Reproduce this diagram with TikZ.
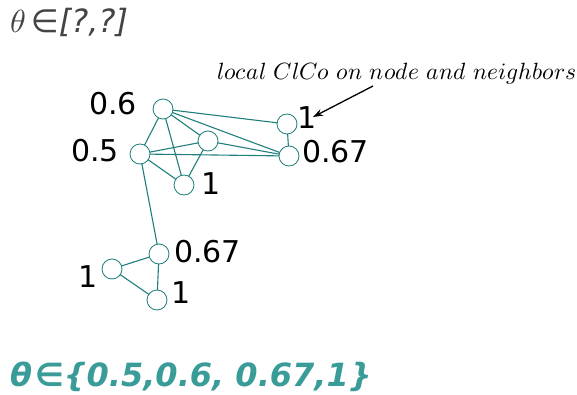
\documentclass[tikz,border=0pt]{standalone}
\usepackage{fontspec}
\usepackage{unicode-math}
\setmainfont{DejaVu Sans}
\newfontfamily\djv{DejaVu Sans}
\newfontfamily\djvo{DejaVu Sans Oblique}
\newfontfamily\djvbo{DejaVu Sans Bold Oblique}
\usetikzlibrary{arrows.meta}
\definecolor{edgeteal}{HTML}{1F7F7B}
\definecolor{titlegray}{HTML}{444444}
\definecolor{bottomteal}{HTML}{3A9C98}
\begin{document}
\begin{tikzpicture}[x=1pt,y=-1pt,
  vtx/.style={circle,draw=edgeteal,fill=white,line width=0.8pt,minimum size=20pt,inner sep=0pt},
  edg/.style={draw=edgeteal,line width=1.1pt},
  lbl/.style={font=\djv\fontsize{30}{32}\selectfont,inner sep=0pt,text=black}]
\useasboundingbox (0,0) rectangle (577,395);
% nodes
\coordinate (c06) at (163,109);
\coordinate (c1a) at (287,124);
\coordinate (c05) at (140,154);
\coordinate (cm) at (208,141);
\coordinate (c067) at (289,156);
\coordinate (c1b) at (184,185);
\coordinate (d067) at (159,254);
\coordinate (d1l) at (112,269);
\coordinate (d1b) at (157,300);
\foreach \a/\b in {c06/c1a,c06/c067,c06/cm,c06/c05,c06/c1b,c05/cm,c05/c067,c05/c1b,cm/c1b,cm/c067,c1a/c067,c05/d067,d067/d1l,d067/d1b,d1l/d1b}
  \draw[edg] (\a) -- (\b);
\foreach \n in {c06,c1a,c05,cm,c067,c1b,d067,d1l,d1b}
  \node[vtx] (\n v) at (\n) {};
% labels
\node[lbl,anchor=base west] (l06) at (89,115) {0.6};
\node[lbl,anchor=base west] (l05) at (71,162) {0.5};
\node[lbl,anchor=base west] (l1a) at (297,129) {1};
\node[lbl,anchor=base west] (l067) at (302,163) {0.67};
\node[lbl,anchor=base west] (l1b) at (201,195) {1};
\node[lbl,anchor=base west] (l067b) at (174,262) {0.67};
\node[lbl,anchor=base west] (l1l) at (78,287) {1};
\node[lbl,anchor=base west] (l1bb) at (171,303) {1};
% annotation
\node[anchor=base west,inner sep=0pt,font=\fontsize{23.5}{25}\selectfont] (ann) at (217,80) {$local\ ClCo\ on\ node\ and\ neighbors$};
\coordinate (arrS) at (373,86);
\coordinate (arrE) at (313,117);
\draw[-{Stealth[length=10pt,width=7pt]},line width=1.3pt] (arrS) -- (arrE);
% title
\node[anchor=base west,inner sep=0pt,text=titlegray,font=\fontsize{32}{34}\selectfont] (title) at (10,33) {$\theta$\,{\djvo ∈[?,?]}};
\node[anchor=base west,inner sep=0pt,text=bottomteal,font=\djvbo\fontsize{32}{34}\selectfont] (bottom) at (10,386) {θ\kern3pt∈\{0.5,0.6, 0.67,1\}};
\end{tikzpicture}
\end{document}
